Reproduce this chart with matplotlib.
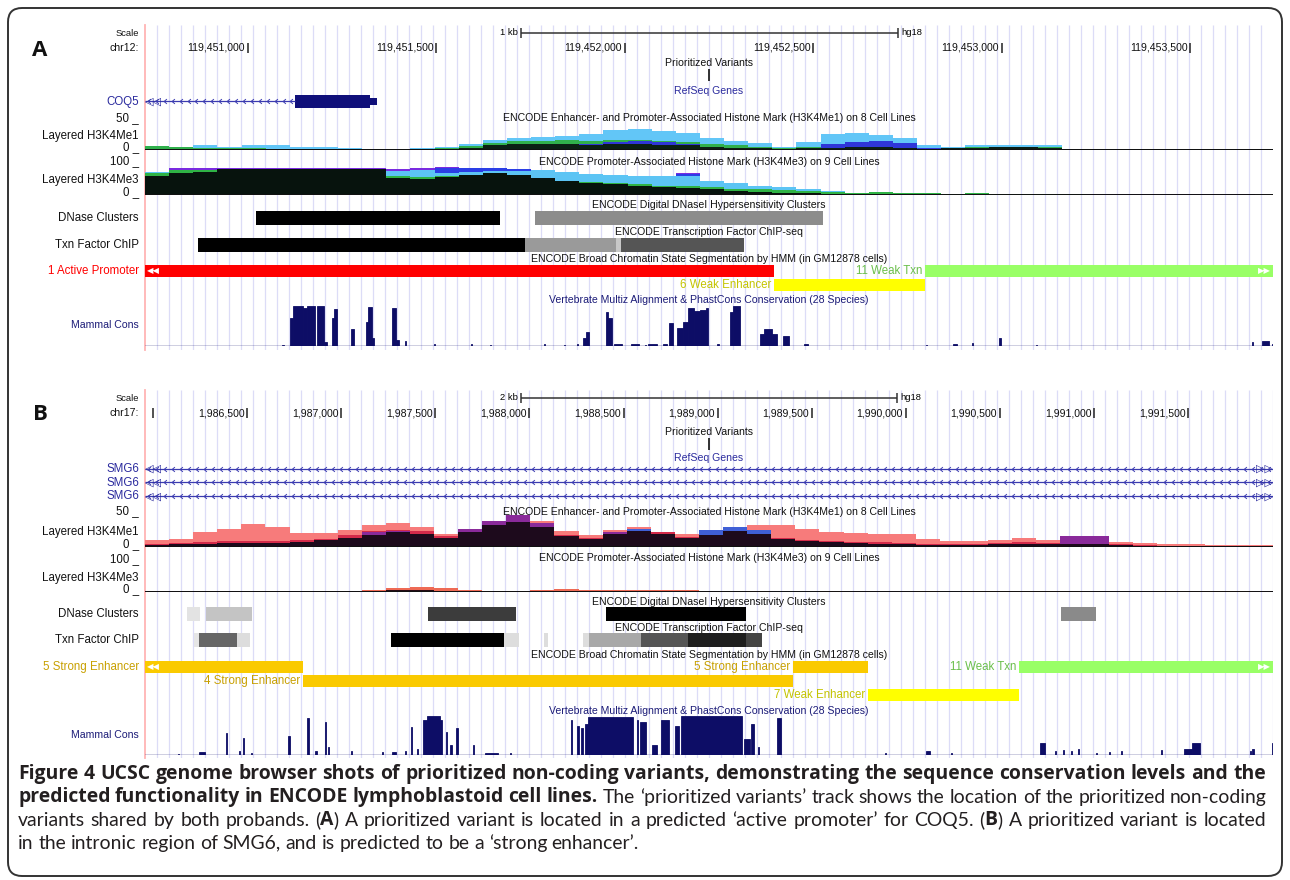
import numpy as np
import matplotlib
matplotlib.use('Agg')
import matplotlib.pyplot as plt
from matplotlib.patches import FancyBboxPatch
from matplotlib.path import Path
from matplotlib.transforms import IdentityTransform

W, H = 1290, 880
X0, X1 = 145, 1273          # browser data area, pixels
LBL_X = 139                 # right edge of the left-hand labels
MID = (X0 + X1) / 2
TRACK_FONT = ['Liberation Sans', 'DejaVu Sans']
SYM_FONT = ['DejaVu Sans']
CAP_FONT = {'normal': ['Lato', 'Open Sans', 'DejaVu Sans'],
            'bold': ['Open Sans', 'Lato', 'DejaVu Sans']}
GRID = '#dcdcf7'
REFSEQ = '#2b2b9e'
GENE = '#10107a'
NAVY = '#0d0d66'
CONS_TXT = '#1c1c78'

# ---------------- panel A : chr12 (hg18) ----------------
A_START, A_END = 119450727, 119453719
A_TICKS = [119451000, 119451500, 119452000, 119452500, 119453000, 119453500]
A_SCALEBAR = [119451724, 119452724]
A_VARIANT = 119452223
A_COQ5_INTRON = [A_START, 119451125]
A_COQ5_EXON_START = [119451125, 119451324]
A_COQ5_EXON_END = [119451324, 119451342]
A_COQ5_EXON_H = [0.95, 0.5]

A_BIN = 64
A_ME1_HUVEC = [4, 3, 8, 6, 9, 9, 6, 5, 3, 2, 2, 3, 5, 10, 17, 20, 22, 24, 28, 34, 36, 32, 29, 20, 15,
               12, 6, 14, 27, 29, 25, 20, 8, 5, 8, 9, 9, 8, 2, 1, 1, 1, 1, 1, 1, 1, 1]
A_ME1_HMEC = [7, 5, 4, 3, 3, 2, 2, 2, 1, 1, 1, 2, 3, 7, 12, 15, 16, 17, 16, 17, 18, 16, 13, 10, 8,
              5, 4, 5, 6, 8, 7, 6, 4, 4, 5, 6, 6, 5, 2, 1, 1, 1, 1, 1, 1, 1, 1]
A_ME1_K562 = [0, 0, 0, 0, 0, 0, 0, 0, 0, 0, 0, 0, 0, 0, 0, 0, 0, 4, 10, 14, 16, 14, 10, 6, 2,
              0, 0, 4, 10, 14, 16, 12, 3, 0, 0, 0, 0, 0, 0, 0, 0, 0, 2, 2, 2, 2, 2]
A_ME1_CORE = [2, 2, 2, 2, 2, 2, 2, 2, 2, 2, 2, 2, 2, 4, 8, 10, 10, 10, 9, 10, 11, 9, 8, 6, 4,
              3, 2, 3, 4, 6, 6, 4, 2, 3, 4, 5, 5, 4, 1, 1, 1, 1, 1, 1, 1, 1, 1]

A_ME3_NHEK = [0, 88, 88, 88, 88, 88, 88, 88, 88, 88, 85, 88, 90, 88, 88, 85, 78, 70, 62, 60, 58, 58, 70, 30, 15,
              8, 4, 3, 2, 1, 1, 1, 1, 1, 1, 1, 1, 1, 1, 2, 2, 2, 2, 2, 2, 2, 1]
A_ME3_K562 = [0, 70, 70, 70, 70, 70, 70, 70, 70, 70, 70, 75, 86, 86, 86, 84, 76, 72, 66, 62, 58, 58, 68, 40, 25,
              15, 8, 4, 3, 2, 1, 1, 1, 1, 1, 1, 1, 1, 1, 1, 1, 1, 1, 1, 1, 1, 1]
A_ME3_HUVEC = [75, 80, 80, 80, 82, 82, 82, 82, 82, 80, 78, 82, 72, 74, 76, 78, 80, 75, 68, 65, 60, 60, 62, 45, 40,
               30, 26, 18, 14, 8, 8, 6, 4, 3, 3, 1, 1, 1, 1, 1, 1, 1, 1, 1, 1, 1, 1]
A_ME3_HMEC = [72, 80, 80, 80, 72, 70, 70, 70, 70, 70, 60, 58, 62, 64, 62, 60, 52, 46, 42, 38, 35, 30, 28, 25, 20,
              18, 16, 14, 10, 8, 10, 6, 5, 4, 5, 4, 3, 3, 2, 1, 1, 1, 1, 1, 1, 1, 1]
A_ME3_CORE = [60, 70, 75, 85, 85, 85, 85, 85, 85, 84, 55, 50, 58, 66, 70, 65, 55, 45, 40, 35, 30, 25, 22, 18, 14,
              10, 8, 6, 4, 3, 3, 2, 2, 1, 1, 1, 1, 1, 1, 1, 1, 1, 1, 1, 1, 1, 1]

A_DNASE_START = [119451021, 119451761]
A_DNASE_END = [119451669, 119452525]
A_DNASE_SHADE = ['#000000', '#8c8c8c']
A_TXN_START = [119450868, 119451735, 119451976, 119451990]
A_TXN_END = [119451735, 119451976, 119451990, 119452316]
A_TXN_SHADE = ['#000000', '#9a9a9a', '#c8c8c8', '#555555']

A_HMM_NAME = ['1 Active Promoter', '6 Weak Enhancer', '11 Weak Txn']
A_HMM_START = [A_START, 119452395, 119452796]
A_HMM_END = [119452395, 119452796, A_END]
A_HMM_ROW = [0, 1, 0]
A_HMM_FILL = ['#ff0000', '#ffff00', '#99ff66']
A_HMM_TEXT = ['#ff0000', '#c4c400', '#6abf4b']

A_CONS_START = [119451090, 119451112, 119451120, 119451146, 119451157, 119451183, 119451202, 119451223, 119451228,
                119451273, 119451313, 119451319, 119451329, 119451382, 119451393, 119451417, 119451494, 119451592,
                119451642, 119451785, 119451838, 119451873, 119451889, 119451897, 119451950, 119451955, 119451971,
                119452016, 119452053, 119452061, 119452101, 119452117, 119452138, 119452154, 119452167, 119452183,
                119452199, 119452215, 119452244, 119452279, 119452287, 119452358, 119452369, 119452390, 119452419,
                119452475, 119452799, 119452870, 119452921, 119452992, 119453090, 119453663, 119453690, 119453716]
A_CONS_END = [119451096, 119451120, 119451146, 119451157, 119451178, 119451202, 119451210, 119451228, 119451236,
              119451281, 119451319, 119451329, 119451334, 119451393, 119451401, 119451419, 119451496, 119451594,
              119451645, 119451788, 119451841, 119451876, 119451897, 119451905, 119451955, 119451966, 119451992,
              119452037, 119452056, 119452085, 119452112, 119452128, 119452154, 119452167, 119452183, 119452199,
              119452215, 119452220, 119452250, 119452287, 119452305, 119452369, 119452390, 119452403, 119452435,
              119452486, 119452801, 119452881, 119452923, 119452998, 119453093, 119453666, 119453708, 119453719]
A_CONS_H = [0.03, 0.7, 1.0, 0.95, 1.0, 1.0, 0.1, 0.7, 0.92, 0.43, 0.6, 0.98, 0.2, 0.96, 0.15, 0.12, 0.05, 0.04,
            0.03, 0.04, 0.03, 0.05, 0.2, 0.34, 0.85, 0.7, 0.04, 0.06, 0.03, 0.04, 0.05, 0.57, 0.45, 0.6, 0.94, 0.88,
            0.9, 0.95, 0.05, 0.85, 1.0, 0.3, 0.42, 0.3, 0.25, 0.05, 0.02, 0.06, 0.07, 0.2, 0.03, 0.09, 0.12, 0.05]

# ---------------- panel B : chr17 (hg18) ----------------
B_START, B_END = 1985957, 1991951
B_TICKS = [1986000, 1986500, 1987000, 1987500, 1988000, 1988500, 1989000, 1989500, 1990000, 1990500,
           1991000, 1991500]
B_SCALEBAR = [1987955, 1989955]
B_VARIANT = 1988954
B_GENES = ['SMG6', 'SMG6', 'SMG6']

B_BIN = 128
B_ME1_GM12878 = [10, 12, 22, 27, 35, 31, 21, 21, 26, 34, 36, 30, 20, 20, 38, 46, 40, 24, 18, 26, 30, 22, 20, 17, 25,
                 33, 34, 27, 22, 21, 19, 19, 12, 9, 9, 11, 13, 11, 12, 12, 8, 6, 5, 4, 3, 3, 3]
B_ME1_MIX = [5, 6, 8, 9, 9, 9, 10, 12, 18, 24, 26, 24, 16, 26, 38, 42, 34, 18, 14, 22, 26, 22, 15, 20, 26,
             24, 14, 11, 9, 8, 7, 6, 5, 5, 5, 6, 7, 6, 7, 6, 5, 3, 2, 2, 2, 2, 2]
B_ME1_NHEK = [0, 0, 0, 0, 0, 0, 0, 0, 0, 22, 24, 0, 0, 28, 40, 48, 36, 0, 0, 22, 25, 0, 0, 0, 0,
              0, 0, 0, 0, 0, 0, 0, 0, 0, 0, 0, 0, 0, 16, 16, 0, 0, 0, 0, 0, 0, 2]
B_ME1_K562 = [0, 0, 0, 0, 0, 0, 0, 0, 0, 0, 0, 0, 0, 0, 0, 0, 0, 0, 0, 0, 28, 0, 0, 26, 30,
              26, 0, 0, 0, 0, 0, 0, 0, 0, 0, 0, 0, 0, 0, 0, 0, 0, 0, 0, 0, 0, 0]
B_ME1_CORE = [3, 4, 5, 6, 6, 6, 8, 10, 14, 18, 22, 20, 14, 22, 34, 38, 30, 16, 12, 20, 24, 20, 14, 18, 24,
              20, 12, 9, 7, 6, 5, 4, 3, 3, 3, 4, 5, 4, 5, 4, 3, 2, 2, 2, 2, 2, 2]

B_ME3_GM12878 = [3, 3, 3, 4, 4, 3, 4, 5, 5, 8, 14, 17, 13, 6, 4, 5, 7, 9, 8, 7, 6, 7, 8, 5, 4,
                 3, 3, 3, 2, 2, 2, 2, 2, 2, 2, 2, 2, 2, 2, 2, 2, 2, 2, 2, 2, 2, 2]
B_ME3_NHEK = [0, 0, 0, 0, 0, 0, 0, 0, 0, 0, 0, 0, 0, 0, 0, 0, 0, 0, 0, 0, 0, 0, 0, 0, 0,
              0, 0, 0, 0, 3, 3, 3, 0, 0, 0, 0, 0, 0, 0, 3, 3, 3, 0, 0, 0, 0, 3]
B_ME3_K562 = [0, 0, 0, 0, 0, 0, 0, 0, 0, 0, 0, 0, 0, 0, 0, 0, 0, 0, 0, 0, 0, 0, 0, 0, 0,
              0, 3, 3, 0, 0, 0, 0, 0, 3, 0, 0, 0, 0, 0, 0, 0, 0, 0, 0, 0, 0, 0]
B_ME3_CORE = [2, 2, 2, 2, 2, 2, 2, 2, 2, 4, 6, 8, 5, 3, 3, 3, 3, 3, 3, 3, 3, 3, 3, 2, 2,
              1, 1, 1, 1, 1, 1, 1, 1, 1, 1, 1, 1, 1, 1, 1, 1, 1, 1, 1, 1, 1, 1]

B_DNASE_START = [1986180, 1986281, 1987461, 1988407, 1990824]
B_DNASE_END = [1986249, 1986526, 1987928, 1989150, 1991010]
B_DNASE_SHADE = ['#e3e3e3', '#c4c4c4', '#3c3c3c', '#000000', '#8a8a8a']
B_TXN_START = [1986217, 1986244, 1986446, 1987264, 1987865, 1988077, 1988284, 1988316, 1988593, 1988842, 1989150]
B_TXN_END = [1986244, 1986446, 1986515, 1987865, 1987944, 1988098, 1988316, 1988593, 1988842, 1989150, 1989235]
B_TXN_SHADE = ['#e6e6e6', '#666666', '#dddddd', '#000000', '#dddddd', '#dddddd', '#dddddd', '#a8a8a8',
               '#555555', '#1e1e1e', '#444444']

B_HMM_NAME = ['5 Strong Enhancer', '4 Strong Enhancer', '5 Strong Enhancer', '7 Weak Enhancer', '11 Weak Txn']
B_HMM_START = [B_START, 1986797, 1989400, 1989799, 1990601]
B_HMM_END = [1986797, 1989400, 1989799, 1990601, B_END]
B_HMM_ROW = [0, 1, 0, 2, 0]
B_HMM_FILL = ['#faca00', '#faca00', '#faca00', '#ffff00', '#99ff66']
B_HMM_TEXT = ['#c8a000', '#c8a000', '#c8a000', '#c4c400', '#6abf4b']

B_CONS_START = [1986132, 1986244, 1986387, 1986456, 1986478, 1986520, 1986717, 1986818, 1986860, 1986913,
                1986929, 1987052, 1987216, 1987269, 1987338, 1987370, 1987402, 1987434, 1987455, 1987524,
                1987556, 1987578, 1987609, 1987700, 1987764, 1987896, 1988221, 1988252, 1988274, 1988295,
                1988311, 1988571, 1988587, 1988651, 1988699, 1988773, 1988805, 1989140, 1989177, 1989214,
                1989315, 1989889, 1990107, 1990240, 1990713, 1990792, 1990835, 1990877, 1990914, 1991010,
                1991079, 1991143, 1991356, 1991478, 1991520, 1991828, 1991839, 1991945]
B_CONS_END = [1986138, 1986276, 1986393, 1986462, 1986483, 1986525, 1986727, 1986828, 1986871, 1986919,
              1986935, 1987057, 1987222, 1987291, 1987344, 1987376, 1987408, 1987455, 1987524, 1987535,
              1987562, 1987588, 1987620, 1987705, 1987833, 1987902, 1988226, 1988263, 1988284, 1988311,
              1988550, 1988577, 1988619, 1988677, 1988741, 1988794, 1989129, 1989172, 1989193, 1989220,
              1989336, 1989894, 1990128, 1990245, 1990739, 1990798, 1990840, 1990883, 1990920, 1991015,
              1991085, 1991148, 1991361, 1991520, 1991563, 1991834, 1991850, 1991951]
B_CONS_H = [0.02, 0.08, 0.56, 0.1, 0.43, 0.05, 0.5, 0.95, 0.1, 0.85, 0.2, 0.1, 0.08, 0.07, 0.1, 0.72, 0.15, 0.9,
            1.0, 0.9, 0.6, 0.25, 0.7, 0.25, 0.04, 0.05, 0.9, 0.75, 0.7, 0.8, 0.97, 0.9, 0.85, 0.25, 0.9, 0.75,
            1.0, 0.4, 0.8, 0.2, 0.95, 0.05, 0.1, 0.06, 0.3, 0.1, 0.12, 0.1, 0.15, 0.05, 0.08, 0.1, 0.12, 0.15,
            0.3, 0.1, 0.15, 0.3]

ME1_TITLE = 'ENCODE Enhancer- and Promoter-Associated Histone Mark (H3K4Me1) on 8 Cell Lines'
ME3_TITLE = 'ENCODE Promoter-Associated Histone Mark (H3K4Me3) on 9 Cell Lines'
DNASE_TITLE = 'ENCODE Digital DNaseI Hypersensitivity Clusters'
TXN_TITLE = 'ENCODE Transcription Factor ChIP-seq'
HMM_TITLE = 'ENCODE Broad Chromatin State Segmentation by HMM (in GM12878 cells)'
CONS_TITLE = 'Vertebrate Multiz Alignment & PhastCons Conservation (28 Species)'

CAPTION = [
    [('Figure 4 UCSC genome browser shots of prioritized non-coding variants, demonstrating the sequence '
      'conservation levels and the', True)],
    [('predicted functionality in ENCODE lymphoblastoid cell lines.', True),
     (' The \u2018prioritized variants\u2019 track shows the location of the prioritized non-coding', False)],
    [('variants shared by both probands. (', False), ('A', True),
     (') A prioritized variant is located in a predicted \u2018active promoter\u2019 for COQ5. (', False),
     ('B', True), (') A prioritized variant is located', False)],
    [('in the intronic region of SMG6, and is predicted to be a \u2018strong enhancer\u2019.', False)],
]
CAPTION_Y = [774, 797, 820, 843]
CAPTION_X0, CAPTION_X1 = 18, 1266

CHEVRON = Path([(0.6, 1.0), (-0.6, 0.0), (0.6, -1.0)], [Path.MOVETO, Path.LINETO, Path.LINETO])

fig = plt.figure(figsize=(W / 100, H / 100), dpi=100)
R = fig.canvas.get_renderer()


def measure(s, size, family, weight='normal'):
    t = fig.text(0, 0, s, fontsize=size, family=family, fontweight=weight)
    w = t.get_window_extent(renderer=R).width
    t.remove()
    return w


FS = 8 * 413 / measure(ME1_TITLE, 8, TRACK_FONT)   # title size fitted to the browser's title width
LFS = FS * 1.1                                      # left-hand track labels are a touch larger


def px_axes(x0, y0, x1, y1, xlim):
    ax = fig.add_axes([x0 / W, 1 - y1 / H, (x1 - x0) / W, (y1 - y0) / H])
    ax.set_axis_off()
    ax.set_xlim(*xlim)
    return ax


def ftext(x, y, s, **kw):
    kw.setdefault('fontsize', FS)
    kw.setdefault('family', TRACK_FONT)
    kw.setdefault('va', 'center')
    kw.setdefault('color', '#111111')
    return fig.text(x / W, 1 - y / H, s, **kw)


def background(y0, y1, xlim, step):
    ax = px_axes(X0, y0, X1, y1, xlim)
    ax.set_ylim(0, 1)
    ax.vlines(np.arange(xlim[0] + step, xlim[1], step), 0, 1, color=GRID, lw=0.9)
    ax.axvline(xlim[0], color='#ffb4b4', lw=1.3, clip_on=False)


def ruler(y_scale, y_chr, xlim, chrom, ticks, bar, bar_label):
    ax = px_axes(X0, y_scale - 8, X1, y_chr + 8, xlim)
    ax.set_ylim(y_chr + 8, y_scale - 8)
    ax.plot(bar, [y_scale, y_scale], color='#333333', lw=1.1, solid_capstyle='butt')
    ax.vlines(bar, y_scale - 5, y_scale + 5, color='#333333', lw=1.1)
    ax.annotate(bar_label, (bar[0], y_scale), xytext=(-2.5, 0), textcoords='offset points',
                ha='right', va='center', fontsize=FS * 0.9, family=TRACK_FONT)
    ax.annotate('hg18', (bar[1], y_scale), xytext=(2.5, 0), textcoords='offset points',
                ha='left', va='center', fontsize=FS * 0.9, family=TRACK_FONT)
    span = xlim[1] - xlim[0]
    for t in ticks:
        ax.vlines(t, y_chr - 5, y_chr + 5, color='#222222', lw=1.1)
        if (t - xlim[0]) / span * (X1 - X0) > 60:
            ax.annotate(f'{t:,}', (t, y_chr), xytext=(-2, 0), textcoords='offset points',
                        ha='right', va='center', fontsize=FS, family=TRACK_FONT, color='#111111')
    ftext(LBL_X, y_scale, 'Scale', ha='right', fontsize=FS * 0.9)
    ftext(LBL_X, y_chr, chrom + ':', ha='right')


def variant(y_title, y0, y1, xlim, pos):
    ftext(MID, y_title, 'Prioritized Variants', ha='center')
    ax = px_axes(X0, y0, X1, y1, xlim)
    ax.set_ylim(0, 1)
    ax.vlines([pos], 0, 1, color='#222222', lw=1.3)


def gene_axes(y_title, y0, y1, xlim, nrows):
    ftext(MID, y_title, 'RefSeq Genes', ha='center', color=REFSEQ)
    ax = px_axes(X0, y0, X1, y1, xlim)
    ax.set_ylim(nrows - 0.5, -0.5)
    return ax


def gene_row(ax, row, y_px, name, lo, hi, step, left_open, right_open):
    ax.plot([lo, hi], [row, row], color='#3b3bb0', lw=0.9, solid_capstyle='butt')
    marks = np.arange(lo + step / 2, hi - step / 4, step)
    ax.plot(marks, np.full(marks.size, row), ls='none', marker=CHEVRON, ms=3.4, mew=0.7,
            mec='#3b3bb0', mfc='none')
    xlim = ax.get_xlim()
    if left_open:
        ax.annotate('\u25c1\u25c1', (xlim[0], row), xytext=(0.3, 0), textcoords='offset points',
                    ha='left', va='center', fontsize=FS + 0.5, family=SYM_FONT, color=REFSEQ)
    if right_open:
        ax.annotate('\u25b7\u25b7', (xlim[1], row), xytext=(-0.3, 0), textcoords='offset points',
                    ha='right', va='center', fontsize=FS + 0.5, family=SYM_FONT, color=REFSEQ)
    ftext(LBL_X, y_px, name, ha='right', color=REFSEQ, fontsize=LFS)


def histone(y_title, title, y0, y1, xlim, ymax, label, bin_w, layers):
    ftext(MID, y_title, title, ha='center')
    ax = px_axes(X0, y0, X1, y1, xlim)
    ax.set_ylim(0, ymax)
    edges = xlim[0] + bin_w * np.arange(len(layers[0][0]) + 1)
    for vals, color in layers:
        ax.stairs(vals, edges, fill=True, color=color, lw=0)
    ax.axhline(0, color='#111111', lw=1.4)
    ftext(LBL_X, y0, f'{ymax} _', ha='right', va='baseline', fontsize=LFS)
    ftext(LBL_X, (y0 + y1) / 2 + 1, label, ha='right', fontsize=LFS)
    ftext(LBL_X, y1, '0 _', ha='right', va='baseline', fontsize=LFS)


def blocks(y_title, title, y0, y1, xlim, label, starts, ends, shades):
    ftext(MID, y_title, title, ha='center')
    ax = px_axes(X0, y0, X1, y1, xlim)
    ax.set_ylim(0, 1)
    ax.barh(0.5, np.subtract(ends, starts), left=starts, height=1.0, color=shades, lw=0)
    ftext(LBL_X, (y0 + y1) / 2, label, ha='right', fontsize=LFS)


def chromatin(y_title, y0, y1, xlim, nrows, names, starts, ends, rows, fills, texts):
    ftext(MID, y_title, HMM_TITLE, ha='center')
    ax = px_axes(X0, y0, X1, y1, xlim)
    ax.set_ylim(nrows - 0.5, -0.5)
    rh = (y1 - y0) / nrows
    for n, s, e, r, fc, tc in zip(names, starts, ends, rows, fills, texts):
        ax.barh(r, e - s, left=s, height=0.86, color=fc, lw=0)
        if s <= xlim[0]:
            ftext(LBL_X, y0 + (r + 0.5) * rh, n, ha='right', color=tc, fontsize=LFS)
            ax.annotate('\u25c0\u25c0', (xlim[0], r), xytext=(1.5, 0), textcoords='offset points',
                        ha='left', va='center', fontsize=FS - 1.5, family=SYM_FONT, color='white')
        else:
            ax.annotate(n, (s, r), xytext=(-2, 0), textcoords='offset points', ha='right',
                        va='center', fontsize=LFS, family=TRACK_FONT, color=tc)
        if e >= xlim[1]:
            ax.annotate('\u25b6\u25b6', (xlim[1], r), xytext=(-1.5, 0), textcoords='offset points',
                        ha='right', va='center', fontsize=FS - 1.5, family=SYM_FONT, color='white')


def conservation(y_title, y0, y1, xlim, starts, ends, heights):
    ftext(MID, y_title, CONS_TITLE, ha='center', color=CONS_TXT)
    ax = px_axes(X0, y0, X1, y1, xlim)
    ax.set_ylim(0, 1.0)
    ax.bar(starts, heights, width=np.subtract(ends, starts), align='edge', color=NAVY,
           edgecolor=NAVY, lw=0.6)
    ax.axhline(0, color=NAVY, lw=1.0)
    ftext(LBL_X, (y0 + y1) / 2 - 1, 'Mammal Cons', ha='right', color=CONS_TXT)


def caption_tokens(line):
    out, gap = [], False
    for s, bold in line:
        for j, part in enumerate(s.split(' ')):
            if j > 0:
                gap = True
            if part:
                out.append((part, 'bold' if bold else 'normal', gap))
                gap = False
    return out


def draw_caption():
    lines = [caption_tokens(line) for line in CAPTION]
    sp12 = measure('x x', 12, CAP_FONT['normal']) - measure('xx', 12, CAP_FONT['normal'])
    widths12 = [[measure(s, 12, CAP_FONT[wt], wt) for s, wt, g in toks] for toks in lines]
    target = CAPTION_X1 - CAPTION_X0
    # largest size that lets every justified line fit with at least a normal space
    size = min(12 * target / (sum(ws) + sp12 * sum(g for _, _, g in toks))
               for toks, ws in zip(lines[:-1], widths12[:-1]))
    k = size / 12
    for i, (toks, ws, y) in enumerate(zip(lines, widths12, CAPTION_Y)):
        ngaps = sum(g for _, _, g in toks)
        if i < len(lines) - 1:
            gap = (target - k * sum(ws)) / ngaps
        else:
            gap = sp12 * k
        x = CAPTION_X0
        for (s, wt, g), w in zip(toks, ws):
            if g:
                x += gap
            ftext(x, y, s, ha='left', family=CAP_FONT[wt], fontsize=size, fontweight=wt,
                  color='#231f20')
            x += w * k


# ---------------- panel A ----------------
A_LIM = (A_START, A_END)
background(25, 350, A_LIM, 12 * (A_END - A_START) / (X1 - X0))
ruler(33, 48, A_LIM, 'chr12', A_TICKS, A_SCALEBAR, '1 kb')
variant(63, 69, 81, A_LIM, A_VARIANT)
ax = gene_axes(91, 95, 108, A_LIM, 1)
gene_row(ax, 0, 101.5, 'COQ5', A_COQ5_INTRON[0], A_COQ5_INTRON[1], 21, True, False)
ax.barh([0, 0], np.subtract(A_COQ5_EXON_END, A_COQ5_EXON_START), left=A_COQ5_EXON_START,
        height=A_COQ5_EXON_H, color=GENE, lw=0)
histone(118, ME1_TITLE, 121, 150, A_LIM, 50, 'Layered H3K4Me1', A_BIN,
        [(A_ME1_HUVEC, '#62c6f7'), (A_ME1_HMEC, '#30b04c'), (A_ME1_K562, '#2f36d8'),
         (A_ME1_CORE, '#0b1f14')])
histone(162, ME3_TITLE, 164, 195, A_LIM, 100, 'Layered H3K4Me3', A_BIN,
        [(A_ME3_NHEK, '#7a2be0'), (A_ME3_K562, '#2b3ee6'), (A_ME3_HUVEC, '#5cc4f4'),
         (A_ME3_HMEC, '#2fb345'), (A_ME3_CORE, '#07130d')])
blocks(205, DNASE_TITLE, 211, 225, A_LIM, 'DNase Clusters', A_DNASE_START, A_DNASE_END, A_DNASE_SHADE)
blocks(232, TXN_TITLE, 238, 252, A_LIM, 'Txn Factor ChIP', A_TXN_START, A_TXN_END, A_TXN_SHADE)
chromatin(259, 264, 292, A_LIM, 2, A_HMM_NAME, A_HMM_START, A_HMM_END, A_HMM_ROW, A_HMM_FILL, A_HMM_TEXT)
conservation(300, 306, 346, A_LIM, A_CONS_START, A_CONS_END, A_CONS_H)

# ---------------- panel B ----------------
B_LIM = (B_START, B_END)
background(390, 758, B_LIM, 12 * (B_END - B_START) / (X1 - X0))
ruler(398, 413, B_LIM, 'chr17', B_TICKS, B_SCALEBAR, '2 kb')
variant(432, 438, 450, B_LIM, B_VARIANT)
ax = gene_axes(458, 462, 503, B_LIM, 3)
for i, name in enumerate(B_GENES):
    gene_row(ax, i, 462 + (i + 0.5) * 41 / 3, name, B_START, B_END, 42.5, True, True)
histone(512, ME1_TITLE, 514, 547, B_LIM, 50, 'Layered H3K4Me1', B_BIN,
        [(B_ME1_GM12878, '#f77b7b'), (B_ME1_MIX, '#d42a4a'), (B_ME1_NHEK, '#8a2a9a'),
         (B_ME1_K562, '#3f5fd6'), (B_ME1_CORE, '#1d0a1c')])
histone(558, ME3_TITLE, 562, 592, B_LIM, 100, 'Layered H3K4Me3', B_BIN,
        [(B_ME3_GM12878, '#ee6a55'), (B_ME3_NHEK, '#9040c0'), (B_ME3_K562, '#4060d0'),
         (B_ME3_CORE, '#250a14')])
blocks(602, DNASE_TITLE, 607, 621, B_LIM, 'DNase Clusters', B_DNASE_START, B_DNASE_END, B_DNASE_SHADE)
blocks(628, TXN_TITLE, 633, 647, B_LIM, 'Txn Factor ChIP', B_TXN_START, B_TXN_END, B_TXN_SHADE)
chromatin(655, 660, 702, B_LIM, 3, B_HMM_NAME, B_HMM_START, B_HMM_END, B_HMM_ROW, B_HMM_FILL, B_HMM_TEXT)
conservation(711, 716, 755, B_LIM, B_CONS_START, B_CONS_END, B_CONS_H)

# ---------------- panel letters, caption, frame ----------------
ftext(40, 50, 'A', ha='center', fontsize=16, fontweight='bold', family=CAP_FONT['bold'], color='#111111')
ftext(40, 414, 'B', ha='center', fontsize=16, fontweight='bold', family=CAP_FONT['bold'], color='#111111')
draw_caption()

frame = FancyBboxPatch((8, 4), W - 16, H - 12, boxstyle='round,pad=0,rounding_size=14',
                       transform=IdentityTransform(), fill=False, ec='#333333', lw=1.4)
fig.add_artist(frame)

fig.savefig('out.png', dpi=100, facecolor='white')
